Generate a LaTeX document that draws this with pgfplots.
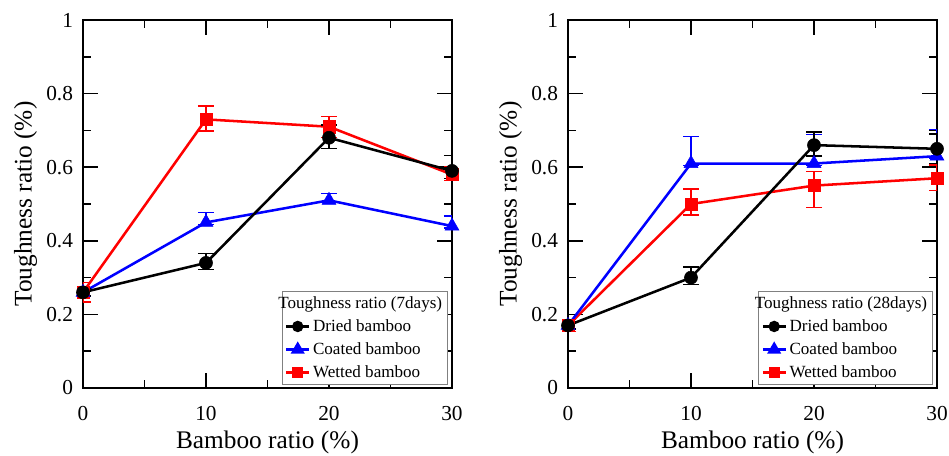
\documentclass[border=0pt]{standalone}
\usepackage{pgfplots}
\pgfplotsset{compat=1.18}
\usepackage{pgfplotstable}
\usepackage{fontspec}
\setmainfont{Liberation Serif}

% 7 days
\pgfplotstableread{
x y ep em
0  0.26 0.010 0.010
10 0.34 0.025 0.018
20 0.68 0.035 0.030
30 0.59 0.042 0.020
}\dryA
\pgfplotstableread{
x y ep em
0  0.26 0.010 0.012
10 0.45 0.027 0.005
20 0.51 0.018 0.005
30 0.44 0.027 0.005
}\coatA
\pgfplotstableread{
x y ep em
0  0.26 0.026 0.026
10 0.73 0.036 0.032
20 0.71 0.027 0.030
30 0.58 0.022 0.016
}\wetA
% 28 days
\pgfplotstableread{
x y ep em
0  0.17 0.010 0.010
10 0.30 0.029 0.018
20 0.66 0.036 0.030
30 0.65 0.040 0.040
}\dryB
\pgfplotstableread{
x y ep em
0  0.17 0.010 0.010
10 0.61 0.073 0.005
20 0.61 0.078 0.005
30 0.63 0.072 0.005
}\coatB
\pgfplotstableread{
x y ep em
0  0.17 0.017 0.017
10 0.50 0.041 0.030
20 0.55 0.038 0.060
30 0.57 0.036 0.034
}\wetB

\pgfplotsset{
  panel/.style={
    scale only axis, width=276.75pt, height=276pt,
    xmin=0, xmax=30, ymin=0, ymax=1,
    xtick={0,10,20,30}, ytick={0,0.2,...,1},
    minor x tick num=1, minor y tick num=1,
    tick align=inside,
    major tick length=11pt, minor tick length=6pt,
    every tick/.style={black, line width=1.1pt},
    axis line style={line width=1.2pt},
    /pgf/number format/assume math mode=true,
    ticklabel style={font=\fontsize{16}{19}\selectfont},
    xticklabel style={yshift=-10pt},
    yticklabel style={xshift=-4pt},
    label style={font=\fontsize{19}{22}\selectfont},
    xlabel={Bamboo ratio (\%)},
    ylabel={Toughness ratio (\%)},
    xlabel style={yshift=-1pt},
    legend cell align=left,
    legend style={at={(rel axis cs:1,0)}, anchor=south east, xshift=-3pt, yshift=2pt,
      draw=gray, line width=0.8pt, font=\fontsize{12.8}{15}\selectfont, row sep=2.9pt,
      inner sep=2pt},
  },
  ser/.style={line width=1.9pt, mark options={solid, line width=0.4pt},
    error bars/y dir=both, error bars/y explicit,
    error bars/error bar style={line width=1pt},
    error bars/error mark options={rotate=90, mark size=6pt, line width=1pt}},
}

\begin{document}
\begin{tikzpicture}
\useasboundingbox (-62.25pt,-50.25pt) rectangle (649.5pt,291pt);
\begin{axis}[panel, at={(0,0)}, anchor=south west]
\addlegendimage{empty legend}
\addlegendentry{\hspace{-26pt}Toughness ratio (7days)}
\addlegendimage{black, line width=1.9pt, mark=*, mark size=3.3pt}
\addlegendentry{Dried bamboo}
\addlegendimage{blue, line width=1.9pt, mark=triangle*, mark size=4.2pt}
\addlegendentry{Coated bamboo}
\addlegendimage{red, line width=1.9pt, mark=square*, mark size=3.1pt}
\addlegendentry{Wetted bamboo}
\addplot[ser, red, mark=square*, mark size=4.6pt, forget plot]
  table[x=x, y=y, y error plus=ep, y error minus=em]{\wetA};
\addplot[ser, blue, mark=triangle*, mark size=6pt, forget plot]
  table[x=x, y=y, y error plus=ep, y error minus=em]{\coatA};
\addplot[ser, black, mark=*, mark size=4.9pt, forget plot]
  table[x=x, y=y, y error plus=ep, y error minus=em]{\dryA};
\end{axis}
\begin{axis}[panel, at={(363.75pt,0)}, anchor=south west]
\addlegendimage{empty legend}
\addlegendentry{\hspace{-26pt}Toughness ratio (28days)}
\addlegendimage{black, line width=1.9pt, mark=*, mark size=3.3pt}
\addlegendentry{Dried bamboo}
\addlegendimage{blue, line width=1.9pt, mark=triangle*, mark size=4.2pt}
\addlegendentry{Coated bamboo}
\addlegendimage{red, line width=1.9pt, mark=square*, mark size=3.1pt}
\addlegendentry{Wetted bamboo}
\addplot[ser, red, mark=square*, mark size=4.6pt, forget plot]
  table[x=x, y=y, y error plus=ep, y error minus=em]{\wetB};
\addplot[ser, blue, mark=triangle*, mark size=6pt, forget plot]
  table[x=x, y=y, y error plus=ep, y error minus=em]{\coatB};
\addplot[ser, black, mark=*, mark size=4.9pt, forget plot]
  table[x=x, y=y, y error plus=ep, y error minus=em]{\dryB};
\end{axis}
\end{tikzpicture}
\end{document}
